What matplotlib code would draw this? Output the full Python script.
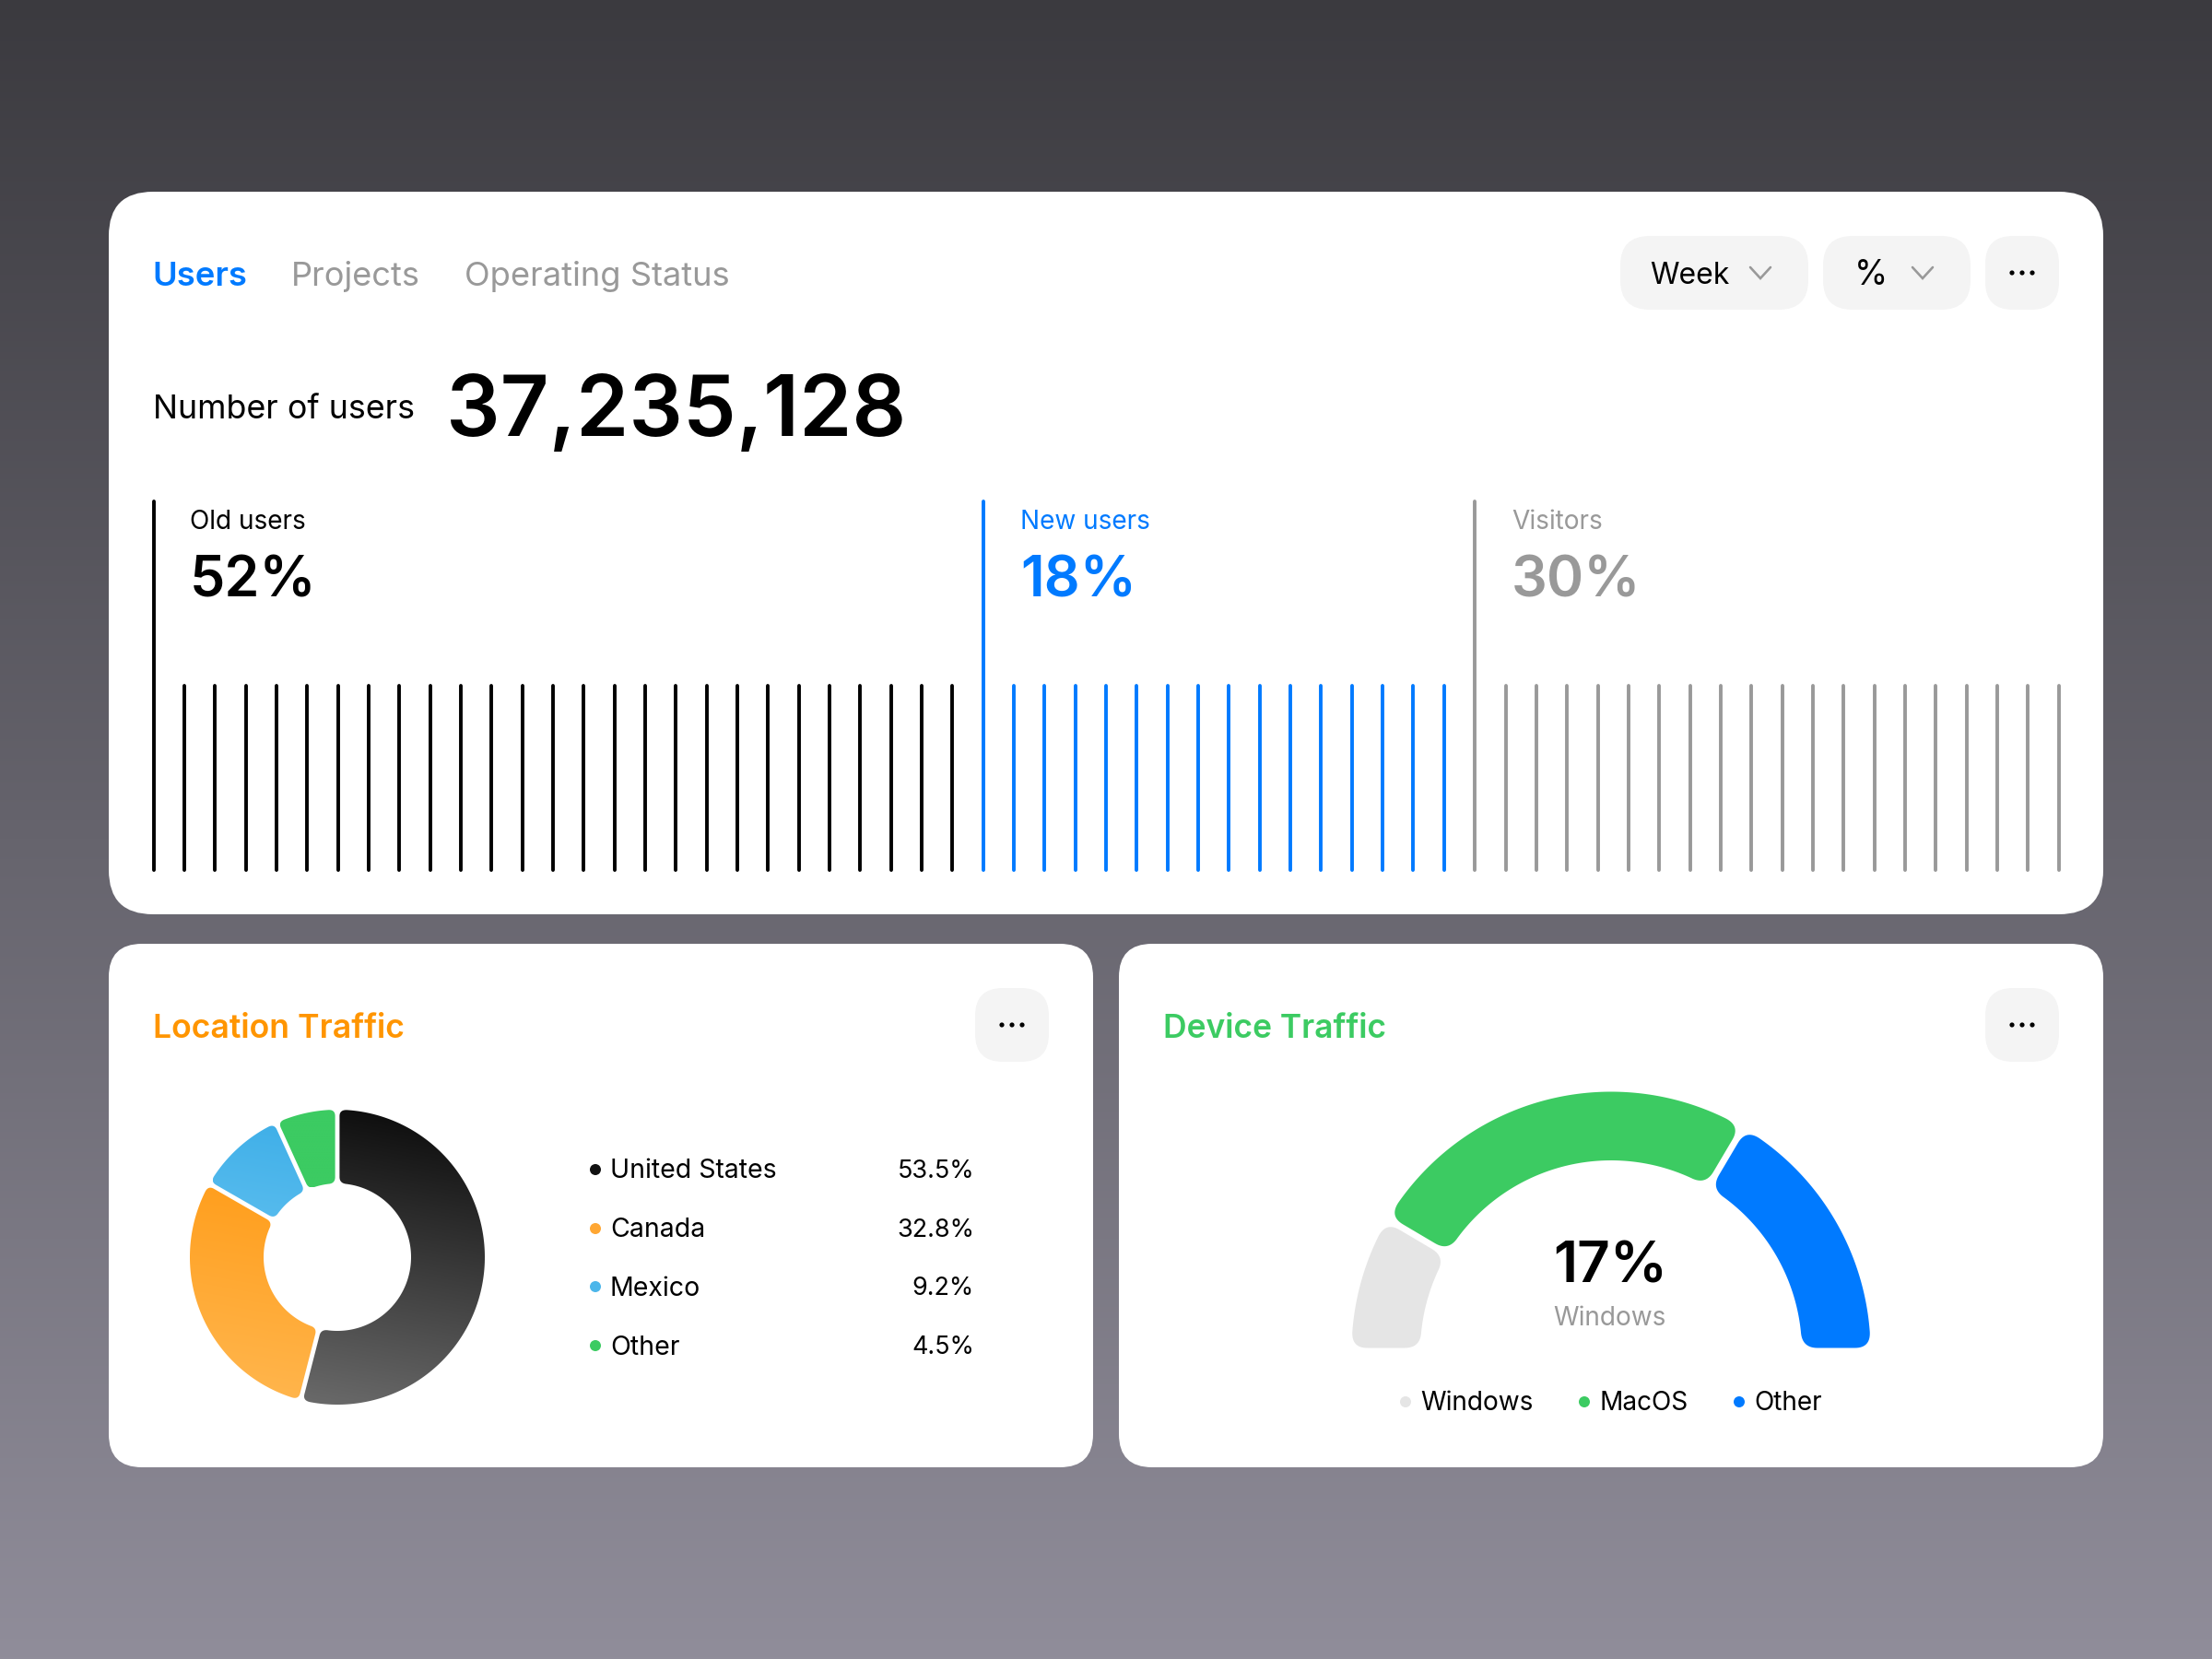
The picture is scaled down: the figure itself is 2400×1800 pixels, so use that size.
import numpy as np
import matplotlib
matplotlib.use("Agg")
import matplotlib.pyplot as plt
from matplotlib.patches import FancyBboxPatch, Polygon, Circle
from matplotlib.colors import to_rgb

plt.rcParams['font.family'] = ['Inter', 'DejaVu Sans']

# ---------- data ----------
tabs = ["Users", "Projects", "Operating Status"]
total_label = "Number of users"
total_value = "37,235,128"
segment_names = ["Old users", "New users", "Visitors"]
segment_shares = ["52%", "18%", "30%"]
segment_bar_counts = [27, 16, 20]
tall_bar_value = 1.0
short_bar_value = 0.5
location_title = "Location Traffic"
location_names = ["United States", "Canada", "Mexico", "Other"]
location_labels = ["53.5%", "32.8%", "9.2%", "4.5%"]
location_arc_shares = [54.0, 29.3, 9.9, 6.8]
device_title = "Device Traffic"
device_names = ["Windows", "MacOS", "Other"]
device_shares = [17, 50, 33]
device_center_value = "17%"
device_center_name = "Windows"

# ---------- colours ----------
BLUE, GREY, GREEN, ORANGE = '#007aff', '#999999', '#3ccb62', '#ff9500'
BTN = '#f4f4f4'
segment_colors = ['#000000', BLUE, GREY]
device_colors = ['#e5e5e5', GREEN, BLUE]
location_dots = ['#111111', '#ffa733', '#4cb6ea', GREEN]
location_grad = [('#080808', '#6a6a6a'), ('#ff9d1a', '#ffb750'),
                 ('#3fafe8', '#58bcee'), ('#3ccb62', '#3ccb62')]

W, H = 2400, 1800
fig = plt.figure(figsize=(24, 18), dpi=100)
ax = fig.add_axes([0, 0, 1, 1])
PT = 72 / 100  # one pixel in points


def fs(px):
    return px * PT


def txt(x, y, s, size, color='#000000', weight='normal', ha='left', va='center'):
    ax.text(x, y, s, fontsize=fs(size), color=color, fontweight=weight, ha=ha, va=va)


def card(x0, y0, x1, y1, r, color='white', z=1):
    ax.add_patch(FancyBboxPatch((x0, y0), x1 - x0, y1 - y0,
                                boxstyle=f"round,pad=0,rounding_size={r}",
                                fc=color, ec='none', zorder=z))


def dots_button(x0, y0, size=80):
    card(x0, y0, x0 + size, y0 + size, 30, BTN, 2)
    cx, cy = x0 + size / 2, y0 + size / 2
    for dx in (-11, 0, 11):
        ax.add_patch(Circle((cx + dx, cy), 2.6, fc='black', ec='none', zorder=3))


def chevron(cx, cy):
    ax.plot([cx - 11, cx, cx + 11], [cy - 6, cy + 6, cy - 6], color=GREY, lw=2.6 * PT,
            solid_capstyle='round', solid_joinstyle='miter', zorder=3)


def sector(cx, cy, ro, ri, a0, a1, gap, rad):
    """Annular sector with rounded corners; angles in degrees clockwise from top."""
    def pt(r, a):
        return np.array([cx + r * np.sin(a), cy - r * np.cos(a)])
    a0r, a1r = np.radians(a0), np.radians(a1)
    d0o = np.arcsin(gap / ro) if gap else 0
    d0i = np.arcsin(gap / ri) if gap else 0
    outer = [pt(ro, a) for a in np.linspace(a0r + d0o, a1r - d0o, 200)]
    inner = [pt(ri, a) for a in np.linspace(a1r - d0i, a0r + d0i, 200)]
    c = [outer[0], outer[-1], inner[0], inner[-1]]

    def trim(seq, r):
        seq = np.array(seq)
        d = np.r_[0, np.cumsum(np.hypot(*np.diff(seq, axis=0).T))]
        m = (d >= r) & (d <= d[-1] - r)
        return seq[m]

    def bez(p0, c0, p1):
        t = np.linspace(0, 1, 16)[:, None]
        return (1 - t) ** 2 * p0 + 2 * t * (1 - t) * c0 + t ** 2 * p1

    o = trim(outer, rad)
    i = trim(inner, rad)
    u1 = (c[2] - c[1]) / np.linalg.norm(c[2] - c[1])
    u2 = (c[0] - c[3]) / np.linalg.norm(c[0] - c[3])
    pts = [o,
           bez(o[-1], c[1], c[1] + u1 * rad),
           bez(c[2] - u1 * rad, c[2], i[0]),
           i,
           bez(i[-1], c[3], c[3] + u2 * rad),
           bez(c[0] - u2 * rad, c[0], o[0])]
    return np.vstack(pts)


# ---------- background ----------
bg_top, bg_bot = np.array(to_rgb('#3b3a3f')), np.array(to_rgb('#908d9a'))
t = np.linspace(0, 1, 900)[:, None, None]
ax.imshow(bg_top + (bg_bot - bg_top) * t, extent=(0, W, H, 0), aspect='auto', origin='upper', zorder=0)

card(118, 208, 2282, 992, 48)
card(118, 1024, 1186, 1592, 36)
card(1214, 1024, 2282, 1592, 36)

# ---------- header ----------
for x, s, c, w, sz in zip((165, 316, 504), tabs, (BLUE, GREY, GREY), ('semibold', 'normal', 'normal'), (36.4, 36.2, 36.3)):
    txt(x, 300, s, sz, c, w)
card(1758, 256, 1962, 336, 32, BTN, 2)
card(1978, 256, 2138, 336, 32, BTN, 2)
dots_button(2154, 256)
txt(1790, 299, "Week", 32)
chevron(1910, 296)
txt(2030, 299, "%", 37, ha='center')
chevron(2086, 296)

txt(166, 445, total_label, 35.8)
ax.text(484, 473, total_value, fontsize=fs(92), color='black', fontweight='semibold', ha='left', va='baseline')

# ---------- segments text ----------
seg_x = (206, 1107, 1640)
for x, n, s, c in zip(seg_x, segment_names, segment_shares, segment_colors):
    txt(x, 567, n, 28, c)
    ax.text(x, 648, s, fontsize=fs(61), color=c, fontweight='semibold', ha='left', va='baseline')

# ---------- bar strip ----------
n_total = sum(segment_bar_counts)
bx0, bx1, by_top, by_bot = 166.6, 2233.6, 544.0, 944.0
ax_b = fig.add_axes([bx0 / W, 1 - by_bot / H, (bx1 - bx0) / W, (by_bot - by_top) / H])
ax_b.set_xlim(0, n_total - 1)
ax_b.set_ylim(0, tall_bar_value)
ax_b.axis('off')
ax_b.patch.set_alpha(0)
start = 0
for count, col in zip(segment_bar_counts, segment_colors):
    xs = np.arange(start, start + count)
    hs = np.r_[tall_bar_value, np.full(count - 1, short_bar_value)]
    vl = ax_b.vlines(xs, 0, hs, color=col, lw=3.9 * PT, capstyle='round', clip_on=False)
    start += count

# ---------- location card ----------
txt(166, 1117, location_title, 35.6, ORANGE, 'semibold')
dots_button(1058, 1072)
cx, cy, ro, ri = 366, 1364, 160, 80
angle = 0.0
total = sum(location_arc_shares)
for share, (c0, c1), in zip(location_arc_shares, location_grad):
    a1 = angle + share / total * 360
    poly = sector(cx, cy, ro, ri, angle, a1, 2.4, 7)
    patch = Polygon(poly, closed=True, fc='none', ec='none', zorder=3)
    ax.add_patch(patch)
    x0, y0 = poly.min(0)
    x1, y1 = poly.max(0)
    xx, yy = np.meshgrid(np.linspace(x0, x1, 200), np.linspace(y0, y1, 200))
    tt = ((yy - y0) - 0.18 * (xx - x1)) / ((y1 - y0) + 0.18 * (x1 - x0))
    rgb = np.array(to_rgb(c0))[None, None] + (np.array(to_rgb(c1)) - np.array(to_rgb(c0)))[None, None] * tt[..., None]
    im = ax.imshow(rgb, extent=(x0, x1, y1, y0), aspect='auto', origin='upper', zorder=3)
    im.set_clip_path(patch)
    angle = a1

for y, n, v, c in zip((1269, 1333, 1396, 1460), location_names, location_labels, location_dots):
    ax.add_patch(Circle((646, y), 6, fc=c, ec='none', zorder=3))
    txt(662, y + 2, n, 28.5)
    txt(1057, y + 2, v, 27, ha='right')

# ---------- device card ----------
txt(1262, 1117, device_title, 35.4, GREEN, 'semibold')
dots_button(2154, 1072)
cx, cy, ro, ri = 1748, 1466, 281.5, 207
angle = -90.0
for i, (share, col) in enumerate(zip(device_shares, device_colors)):
    a1 = angle + share / sum(device_shares) * 180
    poly = sector(cx, cy, ro, ri, angle, a1, 3.5, 17)
    ax.add_patch(Polygon(poly, closed=True, fc=col, ec='none', zorder=3))
    angle = a1
ax.text(1747, 1392, device_center_value, fontsize=fs(62), fontweight='semibold', ha='center', va='baseline', color='black')
txt(1746, 1430, device_center_name, 28, GREY, ha='center')
for dx, tx, n, c in zip((1525, 1719, 1887), (1541, 1736, 1903), device_names, device_colors):
    ax.add_patch(Circle((dx, 1521), 6, fc=c, ec='none', zorder=3))
    txt(tx, 1523, n, 28)

ax.set_xlim(0, W)
ax.set_ylim(H, 0)
ax.axis('off')
ax_b.set_zorder(5)
fig.savefig('out.png', dpi=100)
